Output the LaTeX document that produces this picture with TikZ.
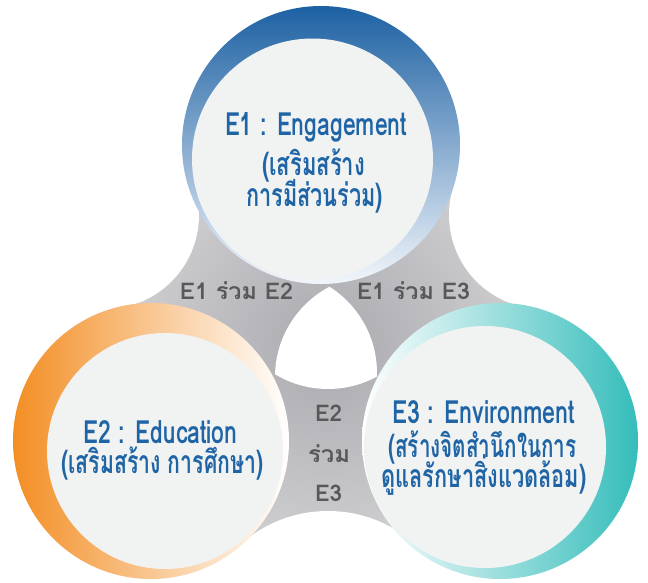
\documentclass[tikz,border=0pt]{standalone}
\usepackage{fontspec}
\usepackage{graphicx}
\newfontfamily\thaifont[Script=Thai]{Loma}
\definecolor{titleblue}{RGB}{31,101,166}
\definecolor{labelgray}{RGB}{88,88,91}
\definecolor{innerfill}{RGB}{241,242,242}
\definecolor{grayin}{RGB}{170,169,174}
\definecolor{grayout}{RGB}{246,246,246}
\definecolor{blueA}{RGB}{29,97,163}
\definecolor{blueB}{RGB}{100,150,200}
\definecolor{blueC}{RGB}{242,246,251}
\definecolor{orangeA}{RGB}{243,142,36}
\definecolor{tealA}{RGB}{53,189,186}
\definecolor{tealB}{RGB}{135,214,212}
\newcommand{\fitw}[2]{\resizebox{#1pt}{\height}{#2}}
\begin{document}
\begin{tikzpicture}[x=1pt,y=-1pt,
  titletext/.style={font=\thaifont\bfseries\fontsize{32}{32}\selectfont, text=titleblue, inner sep=0pt, anchor=base},
  graytext/.style={font=\thaifont\bfseries\fontsize{23}{23}\selectfont, text=labelgray, inner sep=0pt, anchor=base},
  innerdisk/.style={fill=innerfill}]
\useasboundingbox (0,0) rectangle (648,582);
\clip (0,0) rectangle (648,582);
\fill[white] (0,0) rectangle (648,582);
% centres
\coordinate (c1) at (321,145);
\coordinate (c2) at (151,441);
\coordinate (c3) at (500,441);
\coordinate (i1) at (312.5,159);
\coordinate (i2) at (165,451);
\coordinate (i3) at (485,447);
\coordinate (dl) at (105,215);
\coordinate (dr) at (543,215);
\coordinate (db) at (328,642);
\coordinate (hc) at (327,346);
\coordinate (ha) at (328,287);
\coordinate (hb) at (275,373);
\coordinate (hd) at (377,377);
% grey connecting shape
\begin{scope}
  \clip (c1) -- (dl) -- (c2) -- (db) -- (c3) -- (dr) -- cycle;
  \shade[inner color=grayin, outer color=grayout] (hc) circle (420pt);
\end{scope}
\fill[white] (dl) circle (94pt) (dr) circle (94pt) (db) circle (131pt);
% central hole
\begin{scope}
  \clip (ha) circle (102pt);
  \clip (hb) circle (102pt);
  \fill[white] (hd) circle (102pt);
\end{scope}
% circle E1
\shade[top color=blueA, middle color=blueB, bottom color=blueC] (c1) circle (139pt);
\fill[innerdisk] (i1) circle (120.5pt);
% circle E2
\shade[left color=orangeA, right color=white] (c2) circle (138pt);
\fill[innerdisk] (i2) circle (118pt);
% circle E3
\shade[left color=white, middle color=tealB, right color=tealA] (c3) circle (138pt);
\fill[innerdisk] (i3) circle (121pt);
% titles
\node[titletext] (t1a) at (316,135) {\fitw{182}{E1 : Engagement}};
\node[titletext] (t1b) at (313.5,175) {\fitw{103}{(เสริมสร้าง}};
\node[titletext] (t1c) at (314.5,206) {\fitw{137}{การมีส่วนร่วม)}};
\node[titletext] (t2a) at (160.5,443) {\fitw{154}{E2 : Education}};
\node[titletext] (t2b) at (162.5,473) {\fitw{202}{(เสริมสร้าง การศึกษา)}};
\node[titletext] (t3a) at (483.5,423) {\fitw{183}{E3 : Environment}};
\node[titletext] (t3b) at (482.5,457) {\fitw{188}{(สร้างจิตสำนึกในการ}};
\node[titletext] (t3c) at (484,487) {\fitw{205}{ดูแลรักษาสิ่งแวดล้อม)}};
% overlap labels
\node[graytext] (l12) at (236.5,299) {\fitw{113}{E1 ร่วม E2}};
\node[graytext] (l13) at (413.5,299) {\fitw{113}{E1 ร่วม E3}};
\node[graytext] (l23a) at (328.5,421) {\fitw{27}{E2}};
\node[graytext] (l23b) at (329,462) {\fitw{42}{ร่วม}};
\node[graytext] (l23c) at (328.5,501) {\fitw{27}{E3}};
\end{tikzpicture}
\end{document}
